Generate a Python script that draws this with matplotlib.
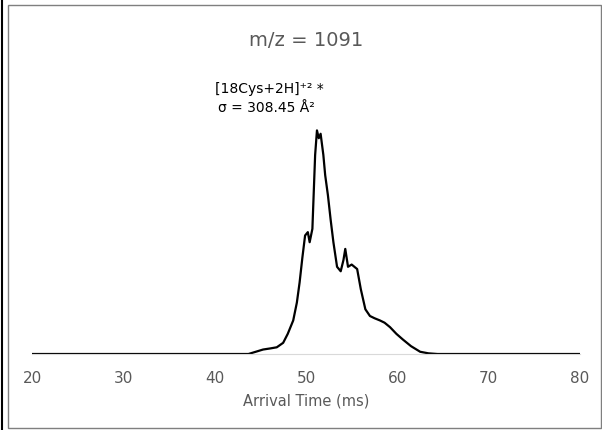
import matplotlib.pyplot as plt
from matplotlib.patches import Rectangle
from matplotlib.lines import Line2D

# arrival time (ms) and normalized intensity
time = [20.0, 43.7, 44.5, 45.3, 46.1, 46.8, 47.5, 48.0, 48.6, 49.0, 49.3,
        49.6, 49.9, 50.2, 50.4, 50.7, 51.0, 51.2, 51.4, 51.6, 51.9, 52.1,
        52.4, 52.7, 53.0, 53.4, 53.8, 54.1, 54.3, 54.6, 55.0, 55.3, 55.6,
        56.0, 56.5, 57.0, 57.5, 58.1, 58.6, 59.2, 59.9, 60.6, 61.5, 62.5,
        63.4, 64.4, 80.0]
intensity = [0.0, 0.0, 0.01, 0.02, 0.025, 0.03, 0.05, 0.09, 0.15, 0.23, 0.32,
             0.43, 0.53, 0.545, 0.50, 0.56, 0.89, 1.0, 0.965, 0.985, 0.89, 0.80,
             0.71, 0.60, 0.50, 0.39, 0.37, 0.42, 0.47, 0.39, 0.40, 0.39, 0.38,
             0.29, 0.20, 0.17, 0.16, 0.15, 0.14, 0.12, 0.09, 0.065, 0.035, 0.01,
             0.003, 0.0, 0.0]

xticks = [20, 30, 40, 50, 60, 70, 80]
gray = "#595959"

fig = plt.figure(figsize=(6.02, 4.30), dpi=100)
ax = fig.add_axes([32 / 602, 76 / 430, 548 / 602, 0.65])

ax.plot(time, intensity, color="black", linewidth=1.6)
ax.set_xlim(20, 80)
ax.set_ylim(0, 1.25)
ax.set_xticks(xticks)
ax.set_yticks([])
for s in ["top", "right", "left"]:
    ax.spines[s].set_visible(False)
ax.spines["bottom"].set_color("#d9d9d9")
ax.tick_params(axis="x", length=0, pad=12, labelsize=11, labelcolor=gray)
ax.set_xlabel("Arrival Time (ms)", fontsize=10.5, color=gray, labelpad=6)

fig.text(306 / 602, 1 - 40 / 430, "m/z = 1091", fontsize=14, color=gray,
         ha="center", va="center")
fig.text(215 / 602, 1 - 89 / 430, "[18Cys+2H]⁺² *", fontsize=10,
         ha="left", va="center")
fig.text(218 / 602, 1 - 108 / 430, "σ = 308.45 Å²", fontsize=10,
         ha="left", va="center")

# chart frame
fig.add_artist(Rectangle((8 / 602, 2 / 430), 593 / 602, 423 / 430,
                         transform=fig.transFigure, fill=False,
                         edgecolor="#7f7f7f", linewidth=1.0))
fig.add_artist(Line2D([2 / 602, 2 / 602], [0, 1], transform=fig.transFigure,
                      color="black", linewidth=1.5))

fig.savefig("out.png", dpi=100)
